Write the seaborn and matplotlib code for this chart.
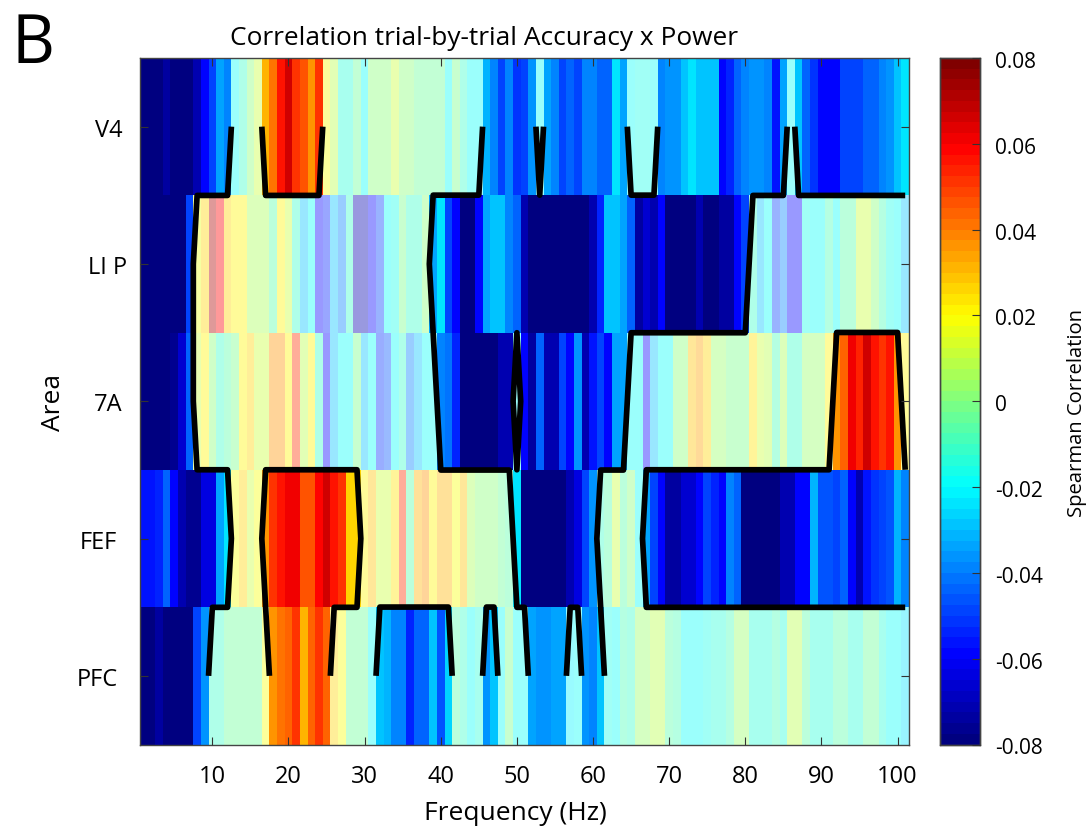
import numpy as np
import pandas as pd
import matplotlib
matplotlib.use('Agg')
import matplotlib.pyplot as plt
from matplotlib.colors import LinearSegmentedColormap
from matplotlib.transforms import ScaledTranslation
import seaborn as sns

# Areas and tick labels
areas = ['V4', 'LI P', '7A', 'FEF', 'PFC']
freqs = list(range(1, 102))
freq_ticks = [10, 20, 30, 40, 50, 60, 70, 80, 90, 100]
cbar_ticks = [-0.08, -0.06, -0.04, -0.02, 0, 0.02, 0.04, 0.06, 0.08]
cbar_labels = ['-0.08', '-0.06', '-0.04', '-0.02', '0', '0.02', '0.04', '0.06', '0.08']

# Correlation values per frequency
v4 = [-.08, -.08, -.08, -.075, -.08, -.08, -.08, -.072, -.06, -.05,
      -.035, -.04, -.02, -.012, .002, .01, .03, .04, .055, .065,
      .05, .047, .037, .052, .018, .008, -.015, -.015, -.003, -.018,
      .002, .002, .002, .012, .002, .002, -.005, -.005, -.005, -.005,
      -.018, -.002, -.012, -.018, -.018, -.032, -.04, -.048, -.04, -.052,
      -.05, -.037, -.02, -.035, -.038, -.05, -.045, -.048, -.04, -.04,
      -.045, -.045, -.024, -.034, -.018, -.016, -.016, -.019, -.04, -.037,
      -.037, -.028, -.024, -.03, -.03, -.03, -.06, -.055, -.043, -.04,
      -.037, -.037, -.04, -.056, -.034, -.02, -.03, -.045, -.052, -.058,
      -.058, -.058, -.048, -.048, -.048, -.043, -.043, -.04, -.037, -.03, -.024]
lip = [-.08, -.08, -.08, -.08, -.08, -.08, -.05, .016, .025, .07,
       .058, .025, .02, .02, .006, .006, .006, -.006, .02, .01,
       -.012, -.03, -.02, -.06, -.053, -.03, -.04, -.012, -.07, -.07,
       -.06, -.05, -.02, -.017, -.002, -.012, -.012, 0, -.035, -.024,
       -.05, -.06, -.08, -.08, -.058, -.035, -.028, -.028, -.04, -.045,
       -.072, -.08, -.08, -.08, -.08, -.08, -.08, -.08, -.08, -.07,
       -.053, -.028, -.028, -.035, -.043, -.075, -.066, -.072, -.06, -.08,
       -.08, -.08, -.08, -.072, -.078, -.078, -.073, -.073, -.06, -.05,
       -.012, -.03, -.02, -.05, -.04, -.06, -.06, -.017, -.02, -.02,
       -.01, -.02, -.007, -.007, .01, .01, 0, -.008, -.016, -.02, -.03]
a7 = [-.08, -.08, -.08, -.08, -.076, -.066, -.043, .012, .02, 0,
      -.012, -.007, -.002, .02, .026, .012, .012, .036, .036, .02,
      .05, .008, .02, -.012, -.06, -.03, -.02, -.02, -.002, -.03,
      -.02, -.052, -.047, -.02, -.012, -.04, -.03, -.02, -.02, -.04,
      -.042, -.053, -.08, -.08, -.08, -.08, -.078, -.072, -.072, -.02,
      -.06, -.074, -.043, -.07, -.07, -.05, -.06, -.037, -.07, -.056,
      -.048, -.06, -.034, -.034, -.02, -.02, -.06, -.03, -.019, -.019,
      .002, .002, .028, .034, .025, .004, .004, -.001, -.001, -.001,
      .024, .012, .008, -.008, .006, -.012, -.012, .004, .004, .004,
      .02, .035, .043, .06, .053, .067, .057, .05, .055, .035, .02]
fef = [-.056, -.056, -.053, -.045, -.06, -.072, -.077, -.077, -.063, -.063,
       -.035, -.024, .018, .025, .01, .018, .035, .052, .057, .062,
       .062, .045, .045, .058, .065, .055, .05, .027, .027, .022,
       .028, .012, .012, .024, .05, -.006, .03, .036, .02, .03,
       .03, .018, .028, .006, 0, 0, 0, -.005, -.006, -.024,
       -.08, -.08, -.08, -.08, -.08, -.08, -.072, -.064, -.05, -.037,
       -.012, -.006, .01, -.006, 0, -.02, -.034, -.05, -.06, -.074,
       -.074, -.066, -.066, -.06, -.05, -.053, -.058, -.04, -.045, -.08,
       -.08, -.08, -.08, -.078, -.072, -.072, -.06, -.06, -.032, -.046,
       -.046, -.05, -.043, -.06, -.07, -.056, -.052, -.05, -.046, -.032, -.04]
pfc = [-.08, -.08, -.074, -.08, -.08, -.08, -.08, -.05, -.037, -.012,
       -.012, -.004, -.004, -.004, -.004, -.004, .018, .035, .04, .043,
       .05, .03, .043, .05, .043, .025, .018, -.004, -.004, -.004,
       -.02, -.028, -.032, -.04, -.04, -.053, -.043, -.043, -.03, -.046,
       -.027, -.007, -.012, -.018, -.014, -.037, -.03, -.019, -.002, -.02,
       -.02, -.035, -.037, -.037, -.033, -.035, -.022, -.02, -.036, -.04,
       -.028, -.017, -.018, -.01, -.012, .004, .004, .009, .008, -.006,
       -.01, -.018, -.018, -.018, -.016, -.014, -.014, -.01, .004, .004,
       -.013, -.013, -.013, -.008, -.013, .008, .008, -.006, -.013, -.013,
       -.013, -.006, -.006, -.014, -.014, -.005, -.003, -.014, -.018, -.018, -.024]

# Significant frequency ranges for each area (inclusive)
sig_v4 = [(1, 12), (17, 24), (46, 52), (54, 64), (69, 85), (87, 101)]
sig_lip = [(1, 7), (39, 80)]
sig_7a = [(1, 7), (40, 49), (51, 64), (92, 100)]
sig_fef = [(1, 12), (17, 29), (50, 60), (67, 101)]
sig_pfc = [(1, 9), (18, 25), (32, 41), (46, 47), (52, 56), (59, 61)]


# Build a boolean row from the significant ranges
def sig_row(ranges):
    row = np.zeros(len(freqs), dtype=bool)
    for start, end in ranges:
        row[start - 1:end] = True
    return row


# Move a text by some pixels, up is negative like in image coordinates
def nudge(label, dx, dy):
    label.set_transform(label.get_transform() + ScaledTranslation(dx / 100, -dy / 100, fig.dpi_scale_trans))


data = pd.DataFrame([v4, lip, a7, fef, pfc], index=areas, columns=freqs)
sig = np.array([sig_row(r) for r in [sig_v4, sig_lip, sig_7a, sig_fef, sig_pfc]])

# MATLAB style jet with 64 levels
jet64 = LinearSegmentedColormap.from_list('jet64', [
    (0, (0, 0, 0.5)), (0.125, (0, 0, 1)), (0.375, (0, 1, 1)),
    (0.625, (1, 1, 0)), (0.875, (1, 0, 0)), (1, (0.5, 0, 0))], N=64)

sns.set_theme(style='white')
plt.rcParams['font.family'] = ['Open Sans', 'DejaVu Sans']
plt.rcParams['text.color'] = 'black'
plt.rcParams['axes.labelcolor'] = 'black'

W, H = 1092, 829
fig = plt.figure(figsize=(W / 100, H / 100), dpi=100, facecolor='white')
ax = fig.add_axes([140 / W, 1 - 745.5 / H, 769 / W, 686.5 / H])
cax = fig.add_axes([940 / W, 1 - 745.5 / H, 40 / W, 686.5 / H])

# Non significant cells are pale, significant ones are full colour
sns.heatmap(data, mask=sig, cmap=jet64, vmin=-0.08, vmax=0.08, alpha=0.4,
            cbar=False, ax=ax)
sns.heatmap(data, mask=~sig, cmap=jet64, vmin=-0.08, vmax=0.08,
            cbar_ax=cax, cbar_kws={'ticks': cbar_ticks}, ax=ax)

# Outline of the significant regions, level just under 0.5 so the saddle at 50 Hz joins as in the original
ax.contour(np.arange(len(freqs)) + 0.5, np.arange(len(areas)) + 0.5, sig.astype(float),
           levels=[0.499], colors='black', linewidths=4.1)

# The seaborn theme puts ticks under the cells
ax.set_axisbelow(False)
cax.set_axisbelow(False)

ax.set_xticks([f - 0.5 for f in freq_ticks])
ax.set_xticklabels(freq_ticks, rotation=0)
ax.set_yticks(np.arange(len(areas)) + 0.5)
ax.set_yticklabels(areas, rotation=0)
ax.tick_params(axis='both', direction='in', length=6, width=0.8, color='#333333',
               top=True, right=True, bottom=True, left=True, labelsize=17, labelcolor='black')
ax.tick_params(axis='x', pad=14)
ax.tick_params(axis='y', pad=9.4)
# Area labels are not quite aligned in the original
for lab, shift in zip(ax.get_yticklabels(), [-4, 0, -4, -10, -9]):
    nudge(lab, shift, 3)

for s in ax.spines.values():
    s.set_visible(True)
    s.set_color('#444444')
    s.set_linewidth(1)

ax.set_xlabel('Frequency (Hz)', fontsize=19, va='center')
ax.xaxis.set_label_coords((515 - 140) / 769, -(813 - 745.5) / 686.5)
ax.set_ylabel('Area', fontsize=19, va='center')
ax.yaxis.set_label_coords((53 - 140) / 769, 0.5)
ax.set_title('Correlation trial-by-trial Accuracy x Power', fontsize=18.9, pad=10,
             x=(484 - 140) / 769)

cax.set_yticklabels(cbar_labels)
cax.tick_params(axis='y', direction='in', length=6, width=0.8, color='#333333',
                right=True, left=False, labelsize=15, pad=10.7, labelcolor='black')
for lab in cax.get_yticklabels():
    nudge(lab, 0, 1)
for s in cax.spines.values():
    s.set_visible(True)
    s.set_color('#444444')
    s.set_linewidth(1)
fig.text(1077 / W, 1 - 413 / H, 'Spearman Correlation', rotation=90, fontsize=14.6,
         ha='center', va='center')

fig.text(12 / W, 1 - 63 / H, 'B', fontsize=48, ha='left', va='baseline')

fig.savefig('out.png', dpi=100)
